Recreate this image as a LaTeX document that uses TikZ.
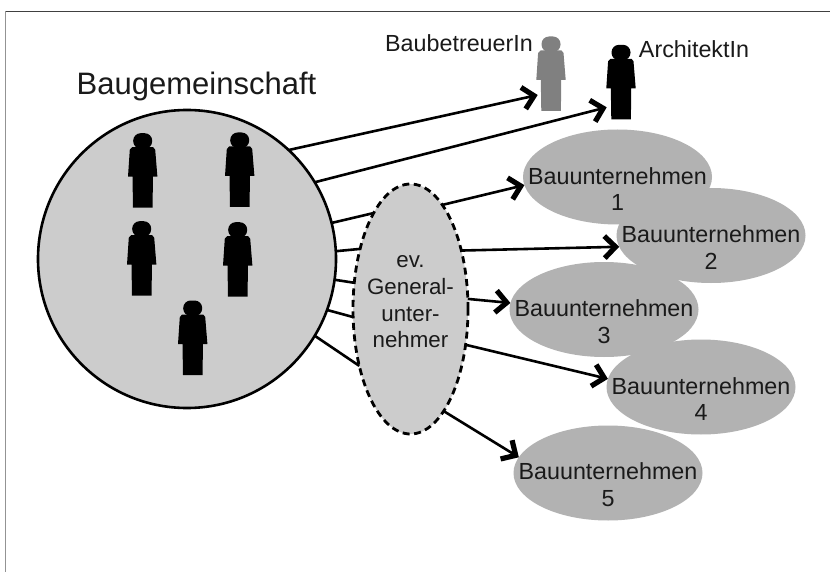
\documentclass[tikz,border=0pt]{standalone}
\usepackage{fontspec}
\setmainfont{Liberation Sans}
\usetikzlibrary{shapes.geometric,arrows.meta}
\definecolor{circfill}{HTML}{CCCCCC}
\definecolor{bufill}{HTML}{B2B2B2}
\definecolor{txt}{HTML}{1A1A1A}
\tikzset{
  x=1pt,y=-1pt,
  person/.pic={
    \fill[#1] (-9.7,0) -- (-10.2,-31) -- (-14.7,-31) -- (-12.9,-58) -- (-10.5,-60.5) -- (-6.5,-60.5)
      -- (6.5,-60.5) -- (10.5,-60.5) -- (12.5,-58) -- (14.7,-31) -- (10.2,-31) -- (9.9,0) -- cycle;
    \fill[#1,rounded corners=7.5pt] (-9.5,-74.5) rectangle (9.5,-59);
  },
  group/.style={circle,draw=black,line width=2.6pt,fill=circfill,minimum size=298pt,inner sep=0pt,outer sep=0pt},
  gu/.style={ellipse,draw=black,line width=2.8pt,dash pattern=on 7pt off 4.5pt,fill=circfill,minimum width=115pt,minimum height=250pt,inner sep=0pt,outer sep=0pt},
  buell/.style={ellipse,fill=bufill,minimum width=189pt,minimum height=95pt,inner sep=0pt,outer sep=0pt},
  lbl/.style={text=txt,inner sep=0pt,font=\fontsize{23.3}{26.7}\selectfont},
  blk/.style={lbl,align=center},
  conn/.style={line width=2.6pt,draw=black},
  arr/.style={conn,-{Straight Barb[length=11pt,width=22pt,line width=5.2pt]}},
}
\begin{document}
\begin{tikzpicture}
\useasboundingbox (0,0) rectangle (830,572);
\fill[white] (0,0) rectangle (830,572);
\coordinate (ftl) at (5.5,11.5);
\coordinate (ftr) at (830,11.5);
\coordinate (fbl) at (5.5,572);
\draw[line width=1.8pt,color=gray!85] (ftl) -- (fbl);
\draw[line width=1.8pt,color=black!75] (ftl) -- (ftr);

% ellipses
\node[buell] (bu1) at (617.5,177) {};
\node[buell] (bu2) at (711,235.5) {};
\node[buell] (bu3) at (604,309.5) {};
\node[buell] (bu4) at (701,387) {};
\node[buell] (bu5) at (608,473) {};
\node[group] (bg) at (187,259) {};
\node[gu] (genu) at (410.5,309) {};

% targets beside the two figures
\coordinate (bbt) at (537.7,95);
\coordinate (art) at (606.7,107.3);

% connectors
\draw[arr] (bg.47) -- (bbt);
\draw[arr] (bg.31) -- (art);
\draw[conn] (bg.14.8) -- (genu.111.3);
\draw[conn] (bg.3) -- (genu.130.3);
\draw[conn] (bg.-8) -- (genu.155.3);
\draw[conn] (bg.-20) -- (genu.188);
\draw[conn] (bg.-31.9) -- (genu.228.8);
\draw[arr] (genu.73.8) -- (bu1.185.9);
\draw[arr] (genu.49.5) -- (bu2.187.5);
\draw[arr] (genu.10.8) -- (bu3.176.7);
\draw[arr] (genu.-33.7) -- (bu4.175.8);
\draw[arr] (genu.-72.8) -- (bu5.170);

% figures
\pic at (142.7,207.7) {person=black};
\pic at (239.7,207) {person=black};
\pic at (141.7,295.7) {person=black};
\pic at (237.7,296.7) {person=black};
\pic at (192.7,375) {person=black};
\pic at (551,111) {person={black!50}};
\pic at (621,119.3) {person=black};

% texts
\node[lbl,font=\fontsize{31}{34}\selectfont,anchor=base] (tbg) at (196.5,95) {Baugemeinschaft};
\node[lbl,anchor=base] (tbb) at (459,51.7) {BaubetreuerIn};
\node[lbl,anchor=base] (tar) at (694,58) {ArchitektIn};
\node[blk] (t1) at ([yshift=-12pt]bu1.center) {Bauunternehmen\\1};
\node[blk] (t2) at ([yshift=-12pt]bu2.center) {Bauunternehmen\\2};
\node[blk] (t3) at ([yshift=-12pt]bu3.center) {Bauunternehmen\\3};
\node[blk] (t4) at ([yshift=-12pt]bu4.center) {Bauunternehmen\\4};
\node[blk] (t5) at ([yshift=-12pt]bu5.center) {Bauunternehmen\\5};
\node[blk,font=\fontsize{22.3}{26.7}\selectfont] (tgu) at ([yshift=7pt]genu.center) {ev.\\General-\\unter-\\nehmer};
\end{tikzpicture}
\end{document}
